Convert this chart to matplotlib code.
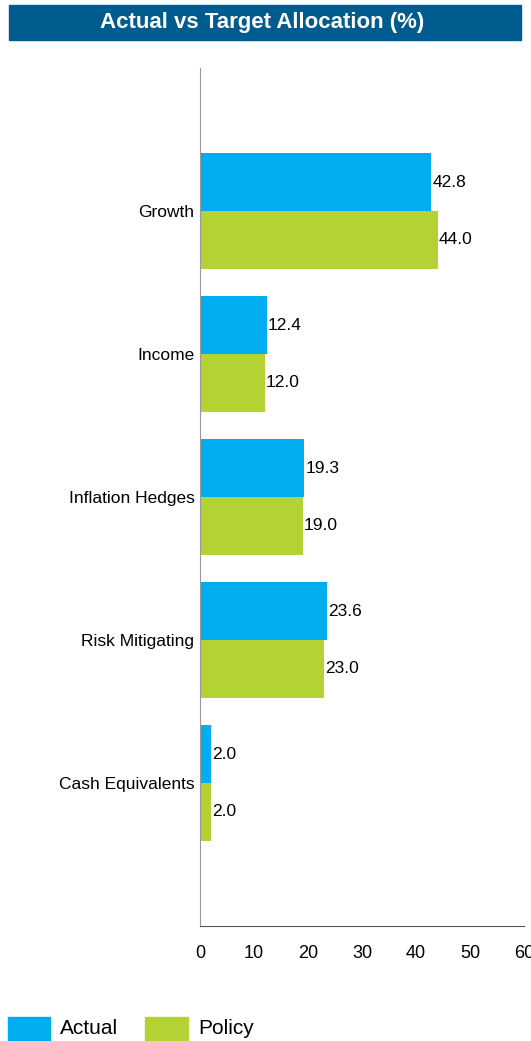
import numpy as np
import matplotlib.pyplot as plt
from matplotlib.patches import Rectangle
from matplotlib import font_manager

categories = ["Growth", "Income", "Inflation Hedges", "Risk Mitigating", "Cash Equivalents"]
actual = [42.8, 12.4, 19.3, 23.6, 2.0]
policy = [44.0, 12.0, 19.0, 23.0, 2.0]
xticks = [0, 10, 20, 30, 40, 50, 60]

names = {f.name for f in font_manager.fontManager.ttflist}
narrow = "Liberation Sans Narrow" if "Liberation Sans Narrow" in names else "Liberation Sans"
plt.rcParams['font.family'] = [narrow, 'DejaVu Sans']

BLUE = "#00AEEF"
GREEN = "#B3D335"

W, H = 531, 1041
fig = plt.figure(figsize=(W / 100, H / 100), dpi=100)

# title banner
fig.patches.append(Rectangle((9 / W, 1 - 40 / H), 512 / W, 35 / H,
                             transform=fig.transFigure, color="#005B8E", zorder=0))
fig.text(262 / W, 1 - 22.5 / H, "Actual vs Target Allocation (%)", color="white",
         fontsize=16, fontweight="bold", ha="center", va="center")

ax = fig.add_axes([200 / W, 1 - 926 / H, 324 / W, 858 / H])
y = np.arange(len(categories))
h = 0.405
ax.barh(y - h / 2, actual, height=h, color=BLUE)
ax.barh(y + h / 2, policy, height=h, color=GREEN)
for yi, a, p in zip(y, actual, policy):
    ax.text(a + 0.2, yi - h / 2, f"{a:.1f}", va="center", ha="left", fontsize=12.5)
    ax.text(p + 0.2, yi + h / 2, f"{p:.1f}", va="center", ha="left", fontsize=12.5)

ax.set_xlim(0, 60)
ax.set_ylim(5, -1)
ax.set_xticks(xticks)
ax.set_xticklabels([str(t) for t in xticks], fontsize=13)
ax.set_yticks(y)
ax.set_yticklabels(categories, fontsize=12.5)
ax.tick_params(length=0, pad=4)
ax.tick_params(axis="x", pad=14)
for s in ["top", "right"]:
    ax.spines[s].set_visible(False)
ax.spines["left"].set_color("#999999")
ax.spines["bottom"].set_color("#555555")

# legend at bottom
fig.patches.append(Rectangle((8 / W, 1 - 1041 / H), 42 / W, 24 / H,
                             transform=fig.transFigure, color=BLUE))
fig.text(60 / W, 1 - 1029 / H, "Actual", fontsize=15, va="center")
fig.patches.append(Rectangle((145 / W, 1 - 1041 / H), 43 / W, 24 / H,
                             transform=fig.transFigure, color=GREEN))
fig.text(198 / W, 1 - 1029 / H, "Policy", fontsize=15, va="center")

fig.savefig("out.png", dpi=100)
